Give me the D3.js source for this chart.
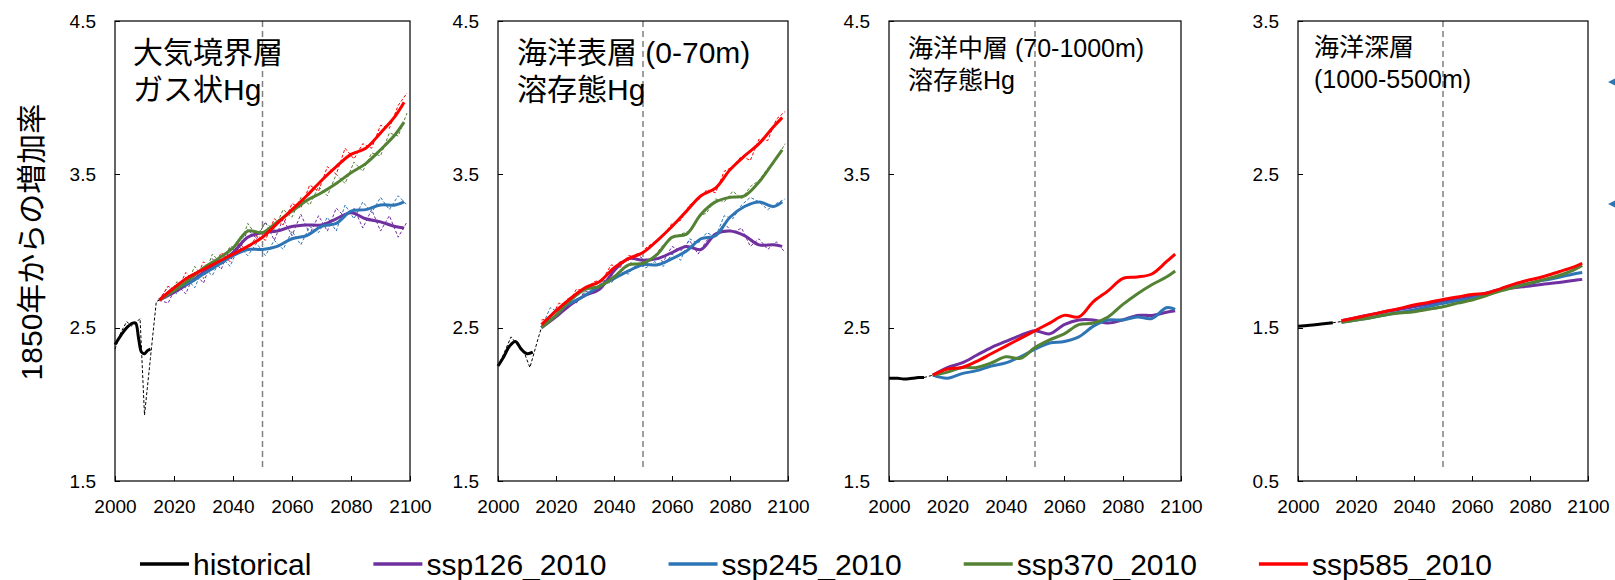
<!DOCTYPE html>
<html lang="ja">

  <head>
    <meta charset="utf-8">
    <title>1850年からの増加率</title>
    <script type="text/javascript" src="https://cdn.jsdelivr.net/npm/d3@7"></script>

    <style>
      body {
        margin: 0;
        background: #fff;
        font-family: "Liberation Sans", "Noto Sans CJK JP", sans-serif;
      }

      .axis line {
        fill: none;
        stroke: #000;
        shape-rendering: crispEdges;
      }

      .axis text {
        font-family: "Liberation Sans", sans-serif;
        font-size: 19px;
        fill: #000;
      }
    </style>
  </head>

  <body>
    <script type="text/javascript">

      // scenario names and colours
      var scenarios = ["ssp126_2010", "ssp245_2010", "ssp370_2010", "ssp585_2010"];
      var colors = ["#7030a0", "#2e75b6", "#548235", "#ff0000"];

      var xTicks = [2000, 2020, 2040, 2060, 2080, 2100];
      var yTicksA = [1.5, 2.5, 3.5, 4.5];
      var yTicksB = [0.5, 1.5, 2.5, 3.5];

      // years of the smoothed (thick) lines and of the yearly (thin dashed) lines
      var smoothYears = [2015, 2020, 2025, 2030, 2035, 2040, 2045, 2050, 2055, 2060, 2065, 2070, 2075, 2080, 2085, 2090, 2095, 2098];
      var rawYears = [2015, 2018, 2021, 2024, 2027, 2030, 2033, 2036, 2039, 2042, 2045, 2048, 2051, 2054, 2057,
                      2060, 2063, 2066, 2069, 2072, 2075, 2078, 2081, 2084, 2087, 2090, 2093, 2096, 2099];

      //----- 大気境界層 ガス状Hg
      var atmHistYears = [2000, 2002, 2004, 2006, 2007, 2008, 2009, 2010, 2011, 2012];
      var atmHist = [2.39, 2.45, 2.50, 2.53, 2.53, 2.43, 2.34, 2.33, 2.35, 2.36];
      var atmHistRawYears = [2000, 2002, 2004, 2005.5, 2007, 2008.5, 2010, 2012, 2014, 2015];
      var atmHistRaw = [2.36, 2.47, 2.54, 2.51, 2.53, 2.56, 1.93, 2.30, 2.67, 2.68];

      var atm126 = [2.68, 2.73, 2.79, 2.86, 2.92, 2.99, 3.09, 3.12, 3.13, 3.16, 3.17, 3.17, 3.21, 3.25, 3.21, 3.19, 3.16, 3.15];
      var atm245 = [2.68, 2.75, 2.79, 2.85, 2.91, 2.97, 3.01, 3.01, 3.03, 3.08, 3.10, 3.16, 3.18, 3.26, 3.27, 3.30, 3.30, 3.32];
      var atm370 = [2.68, 2.74, 2.81, 2.89, 2.95, 3.02, 3.13, 3.12, 3.19, 3.26, 3.33, 3.38, 3.44, 3.51, 3.57, 3.66, 3.76, 3.84];
      var atm585 = [2.68, 2.76, 2.83, 2.88, 2.93, 2.98, 3.03, 3.09, 3.18, 3.27, 3.36, 3.46, 3.55, 3.63, 3.67, 3.77, 3.88, 3.97];

      var atm126Raw = [2.68, 2.66, 2.78, 2.72, 2.86, 2.79, 2.95, 2.88, 3.02, 2.99, 3.14, 3.08, 3.19, 3.07, 3.21,
                       3.10, 3.24, 3.11, 3.23, 3.13, 3.28, 3.22, 3.28, 3.15, 3.27, 3.13, 3.23, 3.09, 3.19];
      var atm245Raw = [2.68, 2.77, 2.72, 2.83, 2.76, 2.89, 2.84, 2.96, 2.90, 3.03, 2.97, 3.05, 2.97, 3.07, 3.01,
                       3.13, 3.04, 3.16, 3.12, 3.22, 3.13, 3.30, 3.21, 3.32, 3.25, 3.35, 3.27, 3.36, 3.30];
      var atm370Raw = [2.68, 2.70, 2.80, 2.76, 2.90, 2.82, 2.98, 2.92, 3.03, 3.01, 3.18, 3.10, 3.18, 3.14, 3.27,
                       3.22, 3.35, 3.30, 3.42, 3.36, 3.50, 3.44, 3.58, 3.52, 3.64, 3.62, 3.77, 3.75, 3.90];
      var atm585Raw = [2.68, 2.77, 2.74, 2.86, 2.80, 2.93, 2.87, 2.99, 2.93, 3.05, 3.00, 3.10, 3.07, 3.21, 3.17,
                       3.31, 3.28, 3.43, 3.39, 3.55, 3.50, 3.67, 3.60, 3.70, 3.67, 3.82, 3.80, 3.95, 4.03];

      //----- 海洋表層 (0-70m) 溶存態Hg
      var surfHistYears = [2000, 2002, 2004, 2006, 2008, 2010, 2012];
      var surfHist = [2.25, 2.31, 2.38, 2.41, 2.36, 2.33, 2.34];
      var surfHistRawYears = [2000, 2002, 2004.5, 2007.5, 2009, 2011, 2014, 2015];
      var surfHistRaw = [2.25, 2.33, 2.44, 2.37, 2.34, 2.24, 2.44, 2.50];

      var surf126 = [2.50, 2.57, 2.65, 2.71, 2.75, 2.87, 2.95, 2.94, 2.95, 2.99, 3.03, 3.01, 3.11, 3.13, 3.10, 3.04, 3.04, 3.03];
      var surf245 = [2.50, 2.61, 2.66, 2.71, 2.77, 2.82, 2.87, 2.91, 2.91, 2.95, 3.00, 3.08, 3.10, 3.22, 3.29, 3.32, 3.29, 3.32];
      var surf370 = [2.50, 2.58, 2.68, 2.75, 2.77, 2.83, 2.91, 2.92, 2.98, 3.09, 3.11, 3.24, 3.32, 3.35, 3.36, 3.45, 3.58, 3.66];
      var surf585 = [2.52, 2.61, 2.69, 2.76, 2.80, 2.89, 2.95, 2.99, 3.07, 3.16, 3.26, 3.36, 3.41, 3.53, 3.62, 3.70, 3.81, 3.87];

      var surf126Raw = [2.50, 2.55, 2.58, 2.66, 2.66, 2.74, 2.72, 2.80, 2.83, 2.93, 2.94, 2.98, 2.93, 2.96, 2.93,
                        3.03, 3.00, 3.07, 2.98, 3.07, 3.10, 3.18, 3.12, 3.15, 3.03, 3.08, 3.01, 3.06, 2.99];
      var surf245Raw = [2.50, 2.63, 2.60, 2.67, 2.66, 2.73, 2.73, 2.80, 2.79, 2.86, 2.85, 2.92, 2.89, 2.93, 2.90,
                        2.98, 2.94, 3.08, 3.05, 3.12, 3.09, 3.23, 3.21, 3.30, 3.35, 3.32, 3.27, 3.31, 3.34];
      var surf370Raw = [2.50, 2.56, 2.59, 2.69, 2.70, 2.76, 2.75, 2.79, 2.81, 2.87, 2.90, 2.99, 2.92, 2.97, 3.04,
                        3.08, 3.11, 3.13, 3.22, 3.25, 3.34, 3.32, 3.39, 3.34, 3.42, 3.46, 3.54, 3.60, 3.70];
      var surf585Raw = [2.55, 2.56, 2.66, 2.65, 2.75, 2.74, 2.80, 2.81, 2.91, 2.89, 2.97, 2.96, 3.02, 3.06, 3.10,
                        3.18, 3.20, 3.30, 3.33, 3.40, 3.38, 3.52, 3.55, 3.62, 3.59, 3.73, 3.72, 3.86, 3.91];

      //----- 海洋中層 (70-1000m) 溶存態Hg
      var midHistYears = [2000, 2003, 2005, 2008, 2010, 2012];
      var midHist = [2.17, 2.17, 2.165, 2.17, 2.175, 2.175];
      var midHistRawYears = [2012, 2015];
      var midHistRaw = [2.175, 2.19];

      var mid126 = [2.19, 2.24, 2.27, 2.32, 2.37, 2.41, 2.45, 2.48, 2.46, 2.52, 2.55, 2.55, 2.53, 2.55, 2.58, 2.58, 2.60, 2.61];
      var mid245 = [2.19, 2.17, 2.20, 2.22, 2.25, 2.27, 2.31, 2.36, 2.40, 2.41, 2.44, 2.51, 2.55, 2.55, 2.57, 2.56, 2.63, 2.62];
      var mid370 = [2.19, 2.21, 2.24, 2.24, 2.27, 2.31, 2.30, 2.37, 2.42, 2.46, 2.52, 2.53, 2.57, 2.65, 2.72, 2.78, 2.83, 2.87];
      var mid585 = [2.19, 2.23, 2.24, 2.28, 2.33, 2.38, 2.43, 2.48, 2.53, 2.58, 2.57, 2.67, 2.74, 2.82, 2.83, 2.85, 2.93, 2.98];

      //----- 海洋深層 (1000-5500m)
      var deepHistYears = [2000, 2004, 2008, 2012];
      var deepHist = [1.51, 1.516, 1.524, 1.532];
      var deepHistRawYears = [2012, 2015];
      var deepHistRaw = [1.532, 1.54];

      var deep126 = [1.545, 1.565, 1.585, 1.604, 1.62, 1.637, 1.655, 1.67, 1.686, 1.702, 1.726, 1.75, 1.762, 1.772, 1.785, 1.795, 1.808, 1.815];
      var deep245 = [1.535, 1.55, 1.565, 1.583, 1.60, 1.615, 1.637, 1.659, 1.675, 1.691, 1.72, 1.75, 1.77, 1.79, 1.81, 1.828, 1.85, 1.86];
      var deep370 = [1.535, 1.55, 1.565, 1.583, 1.595, 1.604, 1.62, 1.637, 1.66, 1.68, 1.71, 1.74, 1.765, 1.79, 1.815, 1.84, 1.875, 1.905];
      var deep585 = [1.545, 1.565, 1.585, 1.605, 1.625, 1.648, 1.665, 1.684, 1.70, 1.716, 1.724, 1.755, 1.787, 1.812, 1.835, 1.865, 1.895, 1.92];

      // panel layout
      var plotTop = 21, plotBottom = 481;

      var panels = [
        { title: ["大気境界層", "ガス状Hg"], size: 30, titleY: [63, 100], titleX: 133,
          left: 115, right: 410, yDomain: [1.5, 4.5], yTicks: yTicksA,
          histYears: atmHistYears, hist: atmHist, histRawYears: atmHistRawYears, histRaw: atmHistRaw,
          smooth: [atm126, atm245, atm370, atm585], raw: [atm126Raw, atm245Raw, atm370Raw, atm585Raw] },
        { title: ["海洋表層 (0-70m)", "溶存態Hg"], size: 30, titleY: [63, 100], titleX: 517,
          left: 498, right: 788, yDomain: [1.5, 4.5], yTicks: yTicksA,
          histYears: surfHistYears, hist: surfHist, histRawYears: surfHistRawYears, histRaw: surfHistRaw,
          smooth: [surf126, surf245, surf370, surf585], raw: [surf126Raw, surf245Raw, surf370Raw, surf585Raw] },
        { title: ["海洋中層 (70-1000m)", "溶存態Hg"], size: 25, titleY: [57, 89], titleX: 908,
          left: 889, right: 1181, yDomain: [1.5, 4.5], yTicks: yTicksA,
          histYears: midHistYears, hist: midHist, histRawYears: midHistRawYears, histRaw: midHistRaw,
          smooth: [mid126, mid245, mid370, mid585], raw: null },
        { title: ["海洋深層", "(1000-5500m)"], size: 25, titleY: [56, 88], titleX: 1314,
          left: 1298, right: 1588, yDomain: [0.5, 3.5], yTicks: yTicksB,
          histYears: deepHistYears, hist: deepHist, histRawYears: deepHistRawYears, histRaw: deepHistRaw,
          smooth: [deep126, deep245, deep370, deep585], raw: null }
      ];

      function pairs(xs, ys) {
        return xs.map(function(v, i) { return [v, ys[i]]; });
      }

      //Create SVG element
      var svg = d3.select("body")
            .append("svg")
            .attr("width", 1615)
            .attr("height", 580);

      panels.forEach(function(p) {

        var xScale = d3.scaleLinear().domain([2000, 2100]).range([p.left, p.right]);
        var yScale = d3.scaleLinear().domain(p.yDomain).range([plotBottom, plotTop]);

        var line = d3.line()
              .x(function(d) { return xScale(d[0]); })
              .y(function(d) { return yScale(d[1]); });
        var smoothLine = d3.line()
              .curve(d3.curveCatmullRom.alpha(0.5))
              .x(function(d) { return xScale(d[0]); })
              .y(function(d) { return yScale(d[1]); });

        var g = svg.append("g");

        // 2050 marker
        g.append("line")
          .attr("x1", xScale(2050)).attr("x2", xScale(2050))
          .attr("y1", plotTop).attr("y2", 468)
          .attr("stroke", "#808080")
          .attr("stroke-width", 1.5)
          .attr("stroke-dasharray", "6,4");

        // panel title
        p.title.forEach(function(t, i) {
          g.append("text")
            .attr("x", p.titleX)
            .attr("y", p.titleY[i])
            .attr("font-size", p.size)
            .attr("fill", "#000")
            .text(t);
        });

        // yearly values (thin dashed)
        if (p.raw) {
          p.raw.forEach(function(vals, i) {
            g.append("path")
              .datum(pairs(rawYears, vals))
              .attr("d", line)
              .attr("fill", "none")
              .attr("stroke", colors[i])
              .attr("stroke-width", 1)
              .attr("stroke-dasharray", "3,2");
          });
        }
        g.append("path")
          .datum(pairs(p.histRawYears, p.histRaw))
          .attr("d", line)
          .attr("fill", "none")
          .attr("stroke", "#000")
          .attr("stroke-width", 1)
          .attr("stroke-dasharray", "3,2");

        // smoothed values (thick)
        g.append("path")
          .datum(pairs(p.histYears, p.hist))
          .attr("d", smoothLine)
          .attr("fill", "none")
          .attr("stroke", "#000")
          .attr("stroke-width", 3);

        p.smooth.forEach(function(vals, i) {
          g.append("path")
            .datum(pairs(smoothYears, vals))
            .attr("d", smoothLine)
            .attr("fill", "none")
            .attr("stroke", colors[i])
            .attr("stroke-width", 3)
            .attr("stroke-linejoin", "round");
        });

        // frame
        g.append("rect")
          .attr("x", p.left)
          .attr("y", plotTop)
          .attr("width", p.right - p.left)
          .attr("height", plotBottom - plotTop)
          .attr("fill", "none")
          .attr("stroke", "#111")
          .attr("stroke-width", 1.3);

        //Create X axis
        var xAxis = g.append("g")
          .attr("class", "axis")
          .attr("transform", "translate(0," + plotBottom + ")")
          .call(d3.axisBottom(xScale)
                  .tickValues(xTicks)
                  .tickFormat(d3.format("d"))
                  .tickSizeInner(-5)
                  .tickSizeOuter(0)
                  .tickPadding(19));
        xAxis.select(".domain").remove();

        //Create Y axis
        var yAxis = g.append("g")
          .attr("class", "axis")
          .attr("transform", "translate(" + p.left + ",0)")
          .call(d3.axisLeft(yScale)
                  .tickValues(p.yTicks)
                  .tickFormat(d3.format(".1f"))
                  .tickSizeInner(-5)
                  .tickSizeOuter(0)
                  .tickPadding(19));
        yAxis.select(".domain").remove();
      });

      // y axis title
      svg.append("text")
        .attr("transform", "translate(42,242) rotate(-90)")
        .attr("text-anchor", "middle")
        .attr("font-size", 30)
        .attr("fill", "#000")
        .text("1850年からの増加率");

      // cut-off markers on the right edge
      [82, 204].forEach(function(yy) {
        svg.append("path")
          .attr("d", "M1608," + yy + "L1616," + (yy - 4) + "L1616," + (yy + 4) + "Z")
          .attr("fill", "#2e75b6");
      });

      // legend
      var legendNames = ["historical"].concat(scenarios);
      var legendColors = ["#000"].concat(colors);
      var legend = svg.append("g");
      var lx = 140;
      legendNames.forEach(function(name, i) {
        legend.append("line")
          .attr("x1", lx).attr("x2", lx + 49)
          .attr("y1", 564).attr("y2", 564)
          .attr("stroke", legendColors[i])
          .attr("stroke-width", 3.5);
        var t = legend.append("text")
          .attr("x", lx + 53)
          .attr("y", 575)
          .attr("font-size", 30)
          .attr("fill", "#000")
          .text(name);
        lx = lx + 53 + t.node().getComputedTextLength() + 62;
      });

    </script>
  </body>

</html>
